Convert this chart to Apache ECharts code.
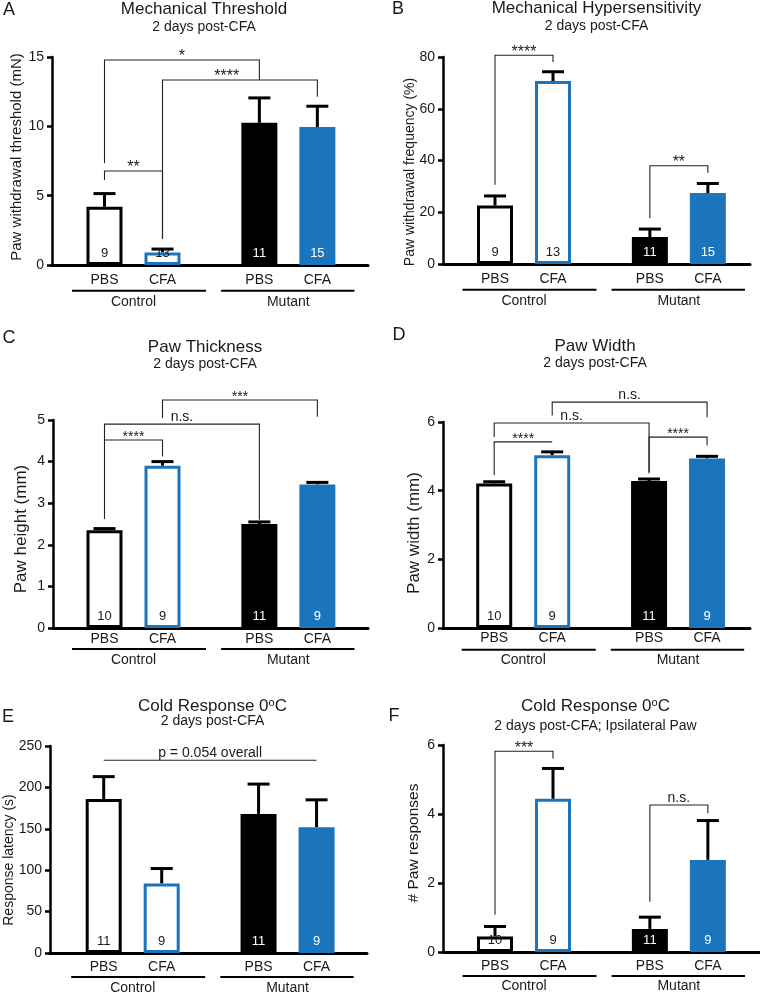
<!DOCTYPE html>
<html>
<head>
<meta charset="utf-8">
<script src="https://cdn.jsdelivr.net/npm/echarts@6/dist/echarts.min.js"></script>
<style>
html,body{margin:0;padding:0;background:#fff}
#chart{width:760px;height:993px}
</style>
</head>
<body>
<div id="chart"></div>
<script>
// categories
const barLabels = ['PBS', 'CFA', 'PBS', 'CFA']
const cohorts = ['Control', 'Mutant']
const xPos = [1, 2, 3.67, 4.67]

// A - mechanical threshold (mN)
const meanA = [4.2, 0.9, 10.25, 9.95]
const semA = [0.95, 0.25, 1.8, 1.5]
const nA = [9, 13, 11, 15]
const sigA = [[0, 1, 6.13, 6.78, 1.95, '**'], [0, 2, 7.35, 14.78, 13.34, '*'], [1, 3, 1.87, 13.34, 12.14, '****', 0.415]]

// B - withdrawal frequency (%)
const meanB = [22.6, 70.7, 10.4, 27.4]
const semB = [3.7, 3.6, 3.1, 3.7]
const nB = [9, 13, 11, 15]
const sigB = [[0, 1, 30.6, 80.7, 78.1, '****'], [2, 3, 17.7, 38, 35.3, '**']]

// C - paw height (mm)
const meanC = [2.35, 3.9, 2.5, 3.45]
const semC = [0.04, 0.1, 0.05, 0.05]
const nC = [10, 9, 11, 9]
const sigC = [[0, 1, 2.62, 4.52, 4.12, '****'], [0, 2, 4.52, 4.9, 2.6, 'n.s.'], [1, 3, 5.04, 5.48, 5.08, '***']]

// D - paw width (mm)
const meanD = [4.21, 5.03, 4.28, 4.94]
const semD = [0.05, 0.1, 0.06, 0.06]
const nD = [10, 9, 11, 9]
const sigD = [[0, 1, 4.45, 5.42, 5.42, '****'], [0, 2, 5.56, 5.97, 4.5, 'n.s.'], [1, 3, 6.19, 6.58, 6.14, 'n.s.'], [2, 3, 4.55, 5.56, 5.32, '****']]

// E - response latency (s)
const meanE = [186, 84, 168, 152]
const semE = [27, 18, 36, 33]
const nE = [11, 9, 11, 9]
const sigE = [[0, 3, 232.7, 232.7, 232.7, 'p = 0.054 overall']]

// F - paw responses
const meanF = [0.45, 4.44, 0.67, 2.67]
const semF = [0.29, 0.88, 0.34, 1.14]
const nF = [10, 9, 11, 9]
const sigF = [[0, 1, 1.08, 5.82, 5.61, '***'], [2, 3, 1.46, 4.26, 4.02, 'n.s.']]

const ink = '#000'
const txt = '#1a1a1a'
const blue = '#1b75bc'
const font = "'Liberation Sans', Arial, sans-serif"
const unit = 58
const groupPad = [[-0.56, 0.75], [-0.66, 0.64]]

const barStyles = [
  {color: '#fff', borderColor: ink, borderWidth: 3},
  {color: '#fff', borderColor: blue, borderWidth: 3},
  {color: ink, borderColor: ink, borderWidth: 3},
  {color: blue, borderColor: blue, borderWidth: 3}
]
const nColors = [txt, txt, '#fff', '#fff']

const panels = [
  {letter: 'A', title: 'Mechanical Threshold', sub: '2 days post-CFA', yName: 'Paw withdrawal threshold (mN)',
    mean: meanA, sem: semA, n: nA, sig: sigA, max: 15, step: 5,
    box: [52, 57, 368, 265], lead: 52.5, lab: 8, line: 25.7, grp: 36.7,
    tx: 204, ty: 9.5, sy: 27, lx: 9, ly: 10, nx: 17, ny: 157, nSize: 15, star: 16},
  {letter: 'B', title: 'Mechanical Hypersensitivity', sub: '2 days post-CFA', yName: 'Paw withdrawal frequency (%)',
    mean: meanB, sem: semB, n: nB, sig: sigB, max: 80, step: 20,
    box: [443, 57, 750, 264], lead: 52, lab: 8.5, line: 25.7, grp: 37.4,
    tx: 596.5, ty: 8.5, sy: 26, lx: 398, ly: 9.5, nx: 410, ny: 172, nSize: 14, star: 16},
  {letter: 'C', title: 'Paw Thickness', sub: '2 days post-CFA', yName: 'Paw height (mm)',
    mean: meanC, sem: semC, n: nC, sig: sigC, max: 5, step: 1,
    box: [53, 420, 368, 628], lead: 51.5, lab: 4, line: 21, grp: 32,
    tx: 205, ty: 347, sy: 364.5, lx: 9, ly: 338, nx: 21, ny: 529, nSize: 17, star: 14},
  {letter: 'D', title: 'Paw Width', sub: '2 days post-CFA', yName: 'Paw width (mm)',
    mean: meanD, sem: semD, n: nD, sig: sigD, max: 6, step: 2,
    box: [443, 422, 750, 628], lead: 51.2, lab: 3, line: 21.7, grp: 32,
    tx: 595, ty: 346, sy: 363, lx: 399, ly: 335, nx: 414.5, ny: 533, nSize: 17, star: 14},
  {letter: 'E', title: 'Cold Response 0{sup|o}C', sub: '2 days post-CFA', yName: 'Response latency (s)',
    mean: meanE, sem: semE, n: nE, sig: sigE, max: 250, step: 50,
    box: [50, 746, 367, 953], lead: 53.7, lab: 7, line: 24, grp: 35.3,
    tx: 212.5, ty: 706, sy: 721.5, lx: 8, ly: 717.5, nx: 9, ny: 860, nSize: 14, star: 16},
  {letter: 'F', title: 'Cold Response 0{sup|o}C', sub: '2 days post-CFA; Ipsilateral Paw', yName: '# Paw responses',
    mean: meanF, sem: semF, n: nF, sig: sigF, max: 6, step: 2,
    box: [443, 745, 760, 952], lead: 52, lab: 7, line: 24, grp: 34.6,
    tx: 595.5, ty: 706, sy: 726, lx: 394, ly: 716.5, nx: 414, ny: 843, nSize: 15.5, star: 16}
]

function nearest(v){
  let k = 0
  xPos.forEach((x, i) => { if (Math.abs(x - v) < Math.abs(xPos[k] - v)) k = i })
  return k
}

function textEl(x, y, text, size, extra){
  return Object.assign({
    type: 'text', x: x, y: y,
    style: {text: text, fontSize: size, fontFamily: font, fill: txt,
      textAlign: 'center', textVerticalAlign: 'middle', align: 'center', verticalAlign: 'middle'}
  }, extra || {})
}

let option = {
  animation: false,
  backgroundColor: '#fff',
  textStyle: {fontFamily: font},
  grid: [], xAxis: [], yAxis: [], series: [], graphic: []
}

panels.forEach((p, i) => {
  const [l, t, r, b] = p.box
  const xMin = xPos[0] - p.lead / unit
  option.grid.push({left: l, top: t, width: r - l, height: b - t})
  option.xAxis.push({
    type: 'value', gridIndex: i, min: xMin, max: xMin + (r - l) / unit,
    axisLine: {onZero: false, lineStyle: {color: ink, width: 3}},
    axisTick: {show: false},
    splitLine: {show: false},
    axisLabel: {customValues: xPos, formatter: v => barLabels[nearest(v)], margin: p.lab,
      fontSize: 14, color: txt, fontFamily: font}
  })
  option.yAxis.push({
    type: 'value', gridIndex: i, min: 0, max: p.max, interval: p.step,
    axisLine: {show: true, onZero: false, lineStyle: {color: ink, width: 2.5}},
    axisTick: {show: true, length: 5, lineStyle: {color: ink, width: 2.5}},
    axisLabel: {fontSize: 14, margin: 8, color: txt, fontFamily: font},
    splitLine: {show: false}
  })

  // error bars (upper only) behind the bars
  option.series.push({
    type: 'custom', xAxisIndex: i, yAxisIndex: i, z: 1, silent: true,
    data: p.mean.map((v, k) => [xPos[k], v, p.sem[k]]),
    renderItem: (params, api) => {
      const p0 = api.coord([api.value(0), api.value(1)])
      const p1 = api.coord([api.value(0), api.value(1) + api.value(2)])
      return {type: 'group', children: [
        {type: 'line', shape: {x1: p0[0], y1: p0[1], x2: p1[0], y2: p1[1]}, style: {stroke: ink, lineWidth: 3}},
        {type: 'line', shape: {x1: p1[0] - 11, y1: p1[1], x2: p1[0] + 11, y2: p1[1]}, style: {stroke: ink, lineWidth: 3}}
      ]}
    }
  })

  option.series.push({
    type: 'bar', xAxisIndex: i, yAxisIndex: i, barWidth: 36, z: 2, silent: true,
    data: p.mean.map((v, k) => ({value: [xPos[k], v], itemStyle: barStyles[k], label: {color: nColors[k]}})),
    label: {show: true, position: 'insideBottom', distance: 5, fontSize: 13, fontFamily: font,
      formatter: params => p.n[params.dataIndex]}
  })

  // significance brackets
  option.series.push({
    type: 'custom', xAxisIndex: i, yAxisIndex: i, z: 3, clip: false, silent: true,
    data: p.sig.map(s => [xPos[s[0]], xPos[s[1]], s[2], s[3], s[4]]),
    renderItem: (params, api) => {
      const s = p.sig[params.dataIndex]
      const x1 = api.value(0), x2 = api.value(1)
      const pts = [[x1, api.value(2)], [x1, api.value(3)], [x2, api.value(3)], [x2, api.value(4)]].map(q => api.coord(q))
      const fr = s[6] == null ? 0.5 : s[6]
      const isStar = s[5].indexOf('*') >= 0
      const tx = pts[1][0] + (pts[2][0] - pts[1][0]) * fr
      const ty = pts[1][1] - (isStar ? 3 : 7)
      return {type: 'group', children: [
        {type: 'polyline', shape: {points: pts}, style: {stroke: '#222', lineWidth: 1.1, fill: null}},
        textEl(tx, ty, s[5], isStar ? p.star : 14)
      ]}
    }
  })

  // cohort lines and names under the axis
  option.series.push({
    type: 'custom', xAxisIndex: i, yAxisIndex: i, z: 3, clip: false, silent: true,
    data: cohorts.map((c, k) => [xPos[2 * k] + groupPad[k][0], xPos[2 * k + 1] + groupPad[k][1], (xPos[2 * k] + xPos[2 * k + 1]) / 2]),
    renderItem: (params, api) => {
      const a = api.coord([api.value(0), 0])
      const e = api.coord([api.value(1), 0])
      const m = api.coord([api.value(2), 0])
      return {type: 'group', children: [
        {type: 'line', shape: {x1: a[0], y1: a[1] + p.line, x2: e[0], y2: a[1] + p.line}, style: {stroke: ink, lineWidth: 2}},
        textEl(m[0], m[1] + p.grp, cohorts[params.dataIndex], 14)
      ]}
    }
  })

  const titleEl = textEl(p.tx, p.ty, p.title, 17)
  titleEl.style.rich = {sup: {fontSize: 11, fontFamily: font, fill: txt, verticalAlign: 'top'}}
  option.graphic.push(titleEl)
  option.graphic.push(textEl(p.tx, p.sy, p.sub, 14))
  option.graphic.push(textEl(p.lx, p.ly, p.letter, 18))
  option.graphic.push(textEl(p.nx, p.ny, p.yName, p.nSize, {rotation: Math.PI / 2}))
})

const chart = echarts.init(document.getElementById('chart'))
chart.setOption(option)
</script>
</body>
</html>
